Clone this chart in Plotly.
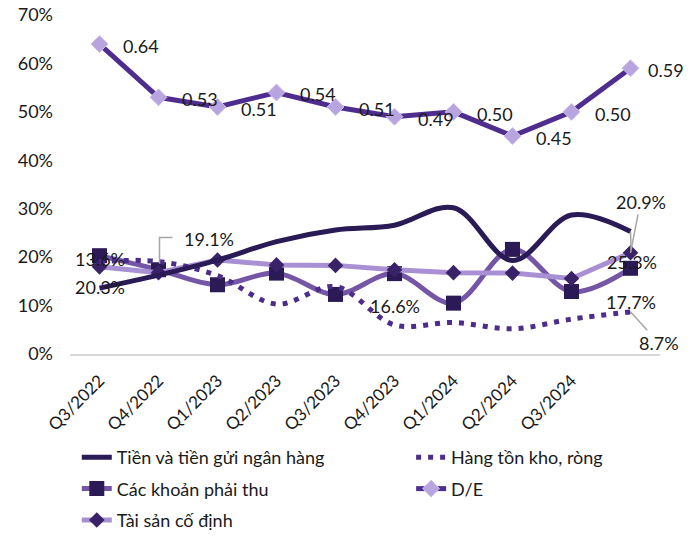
import plotly.graph_objects as go

quarters = ["Q3/2022", "Q4/2022", "Q1/2023", "Q2/2023", "Q3/2023",
            "Q4/2023", "Q1/2024", "Q2/2024", "Q3/2024", "Q4/2024"]
tick_labels = quarters[:9]
y_ticks = [0, 10, 20, 30, 40, 50, 60, 70]
y_tick_text = [f"{v}%" for v in y_ticks]

tien = [13.6, 16.3, 19.4, 23.2, 25.6, 26.6, 30.2, 19.3, 28.7, 25.3]
hang_ton_kho = [19.1, 19.1, 16.2, 10.3, 13.9, 6.0, 6.5, 5.2, 7.2, 8.7]
phai_thu = [20.3, 17.4, 14.3, 16.7, 12.3, 16.6, 10.5, 21.6, 12.9, 17.7]
de_ratio = [0.64, 0.53, 0.51, 0.54, 0.51, 0.49, 0.50, 0.45, 0.50, 0.59]
tscd = [18.0, 16.8, 19.4, 18.4, 18.3, 17.4, 16.8, 16.7, 15.6, 20.9]

FONT = "Lato"
TXT = "#1a1a1a"
GRAY = "#a6a6a6"

fig = go.Figure()

fig.add_trace(go.Scatter(
    x=quarters, y=phai_thu, name="Các khoản phải thu", mode="lines+markers",
    line=dict(color="#7556a6", width=5, shape="spline", smoothing=1),
    marker=dict(symbol="square", size=15, color="#2b1a55"),
    legend="legend", legendgroup="b", legendrank=2))
fig.add_trace(go.Scatter(
    x=quarters, y=tscd, name="Tài sản cố định", mode="lines+markers",
    line=dict(color="#a98fd3", width=5),
    marker=dict(symbol="diamond", size=12, color="#3a2268"),
    legend="legend", legendgroup="c", legendrank=3))
fig.add_trace(go.Scatter(
    x=quarters, y=hang_ton_kho, name="Hàng tồn kho, ròng", mode="lines",
    line=dict(color="#4d2d8c", width=5, dash="5px,7px", shape="spline", smoothing=1),
    legend="legend2", legendgroup="d", legendrank=1))
fig.add_trace(go.Scatter(
    x=quarters, y=tien, name="Tiền và tiền gửi ngân hàng", mode="lines",
    line=dict(color="#2a1a55", width=5, shape="spline", smoothing=1),
    legend="legend", legendgroup="a", legendrank=1))
fig.add_trace(go.Scatter(
    x=quarters, y=[v * 100 for v in de_ratio], name="D/E", mode="lines+markers",
    line=dict(color="#4f2d8f", width=5),
    marker=dict(symbol="diamond", size=13, color="#b8a5df",
                line=dict(color="#cbbdeb", width=1)),
    legend="legend2", legendgroup="e", legendrank=2))

# D/E data labels
for i, v in enumerate(de_ratio):
    fig.add_annotation(x=quarters[i], y=v * 100, text=f"{v:.2f}", showarrow=False,
                       xshift=41 if i < 9 else 35, yshift=-2,
                       font=dict(family=FONT, size=18, color=TXT))

def lab(text, xi, y, xs=0, ys=0, arrow=None):
    d = dict(x=quarters[xi], y=y, text=text, font=dict(family=FONT, size=18, color=TXT))
    if arrow is None:
        d.update(showarrow=False, xshift=xs, yshift=ys)
    else:
        d.update(showarrow=True, ax=arrow[0], ay=arrow[1], arrowhead=0,
                 arrowwidth=1.5, arrowcolor=GRAY)
    fig.add_annotation(**d)

lab(f"{tien[0]:.1f}%", 0, tien[0], ys=29)
lab(f"{phai_thu[0]:.1f}%", 0, phai_thu[0], ys=-31)
lab(f"{hang_ton_kho[0]:.1f}%", 1, hang_ton_kho[1], xs=50, ys=23)
lab(f"{phai_thu[5]:.1f}%", 5, phai_thu[5], ys=-32)
lab(f"{tscd[9]:.1f}%", 9, tscd[9], arrow=(10, -51))
lab(f"{tien[9]:.1f}%", 9, tien[9], arrow=(1, 31))
lab(f"{phai_thu[9]:.1f}%", 9, phai_thu[9], ys=-34)
lab(f"{hang_ton_kho[9]:.1f}%", 9, hang_ton_kho[9], arrow=(28, 31))

# elbow leader for the 19.1% label
fig.add_shape(type="path", xref="x", yref="y", xsizemode="pixel", ysizemode="pixel",
              xanchor=quarters[1], yanchor=hang_ton_kho[1],
              path="M 1 -2 L 1 24 L 14 24", line=dict(color=GRAY, width=1.5))

leg_common = dict(orientation="v", xref="container", yref="container",
                  xanchor="left", yanchor="top", traceorder="grouped",
                  tracegroupgap=5, bgcolor="rgba(0,0,0,0)",
                  font=dict(family=FONT, size=18, color=TXT))

fig.update_layout(
    width=698, height=541,
    margin=dict(l=70, r=38, t=15, b=187, autoexpand=False),
    paper_bgcolor="white", plot_bgcolor="white",
    font=dict(family=FONT, size=18, color=TXT),
    showlegend=True,
    legend=dict(x=0.110, y=0.1885, **leg_common),
    legend2=dict(x=0.589, y=0.1885, **leg_common),
    xaxis=dict(type="category", categoryorder="array", categoryarray=quarters,
               tickvals=tick_labels, ticktext=tick_labels, tickangle=-45,
               range=[-0.5, 9.5], showgrid=False, showline=True,
               linecolor="#d9d9d9", linewidth=2, ticks="",
               ticklabelstandoff=8,
               tickfont=dict(family=FONT, size=17, color=TXT)),
    yaxis=dict(range=[0, 70], tickvals=y_ticks, ticktext=y_tick_text,
               showgrid=False, zeroline=False, showline=False,
               ticklabelstandoff=16,
               tickfont=dict(family=FONT, size=18, color=TXT)),
)

fig.write_html("out.html")
